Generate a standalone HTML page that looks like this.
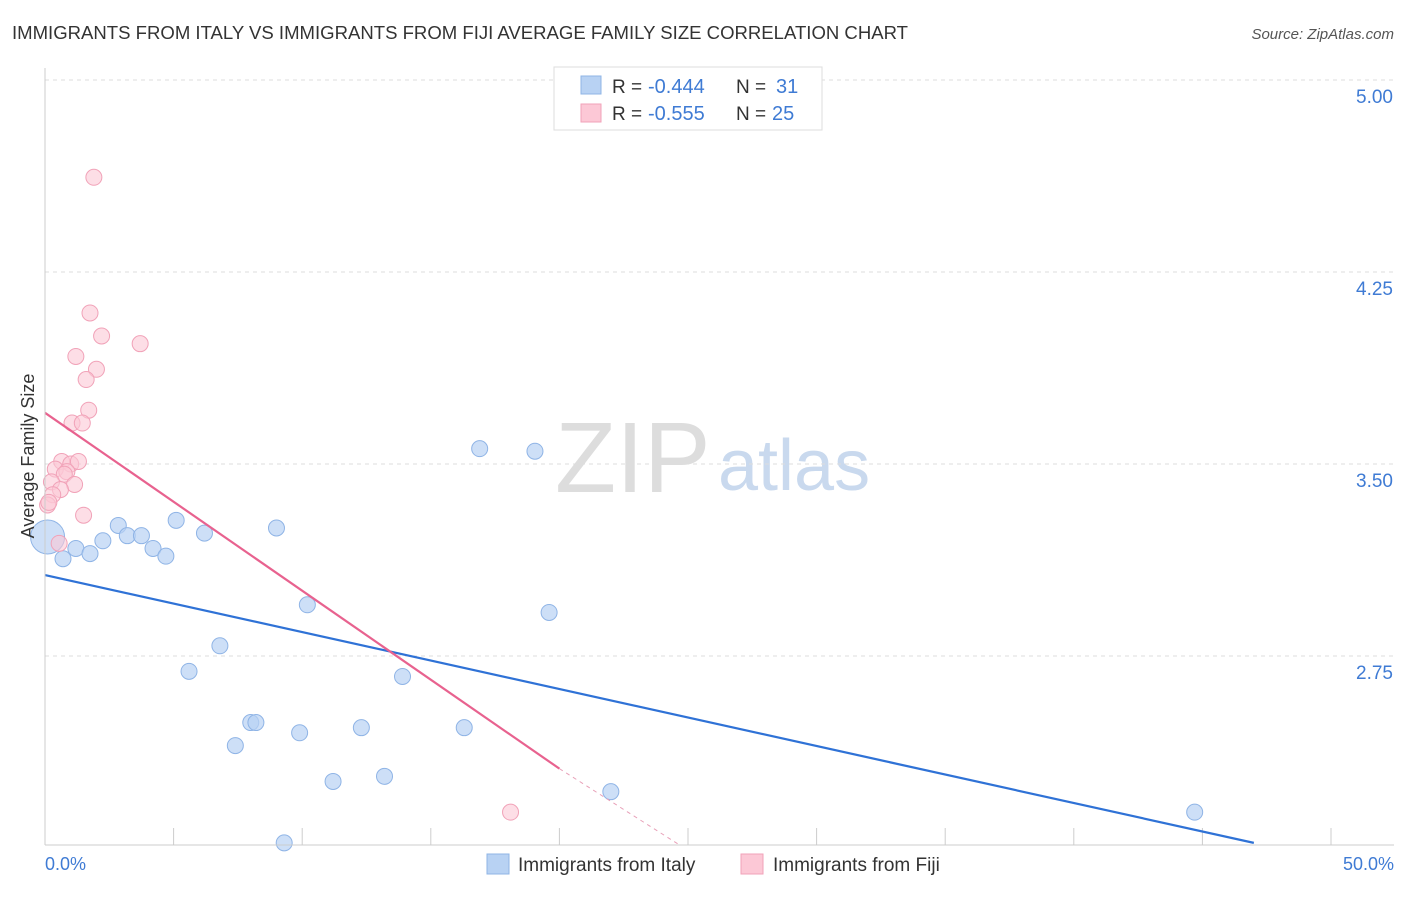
<!DOCTYPE html>
<html><head><meta charset="utf-8"><style>
body{margin:0;background:#fff;font-family:"Liberation Sans",sans-serif;}
svg text{font-family:"Liberation Sans",sans-serif;}
</style></head><body>
<svg id="chart" width="1406" height="892">
<text x="12" y="39" font-size="18" fill="#333" textLength="896" lengthAdjust="spacingAndGlyphs">IMMIGRANTS FROM ITALY VS IMMIGRANTS FROM FIJI AVERAGE FAMILY SIZE CORRELATION CHART</text>
<text x="1394" y="39" font-size="15" fill="#555" text-anchor="end" font-style="italic">Source: ZipAtlas.com</text>
<text x="555" y="492" font-size="100" fill="#ddd" font-family="Liberation Serif">ZIP</text>
<text x="718" y="490" font-size="72" fill="#c9d9ee">atlas</text>
<g id="grid"></g><g id="marks"></g><g id="lines"></g>
<line x1="45" y1="68" x2="45" y2="845" stroke="#ccc"/>
<line x1="45" y1="845" x2="1394" y2="845" stroke="#ccc"/>
<text transform="translate(34,456) rotate(-90)" font-size="18" fill="#333" text-anchor="middle">Average Family Size</text>
<text x="45" y="870" font-size="18" fill="#3f7bd4">0.0%</text>
<text x="1394" y="870" font-size="18" fill="#3f7bd4" text-anchor="end">50.0%</text>
<g>
<rect x="554" y="67" width="268" height="63" fill="#fff" stroke="#ddd"/>
<rect x="581" y="76" width="20" height="18" fill="#b8d2f3" stroke="#8fb4e6"/>
<rect x="581" y="104" width="20" height="18" fill="#fcc8d6" stroke="#f1a2b8"/>
<text x="612" y="93" font-size="19" fill="#333">R =</text>
<text x="648" y="93" font-size="20" fill="#3f7bd4">-0.444</text>
<text x="736" y="93" font-size="19" fill="#333">N =</text>
<text x="776" y="93" font-size="20" fill="#3f7bd4">31</text>
<text x="612" y="120" font-size="19" fill="#333">R =</text>
<text x="648" y="120" font-size="20" fill="#3f7bd4">-0.555</text>
<text x="736" y="120" font-size="19" fill="#333">N =</text>
<text x="772" y="120" font-size="20" fill="#3f7bd4">25</text>
</g>
<g>
<rect x="487" y="854" width="22" height="20" fill="#b8d2f3" stroke="#8fb4e6"/>
<text x="518" y="871" font-size="19" fill="#333">Immigrants from Italy</text>
<rect x="741" y="854" width="22" height="20" fill="#fcc8d6" stroke="#f1a2b8"/>
<text x="773" y="871" font-size="19" fill="#333">Immigrants from Fiji</text>
</g>
</svg>
<script>
const yTicks=[2.75,3.50,4.25,5.00];
const yTickLabels=["2.75","3.50","4.25","5.00"];
const xTicks=[0,5,10,15,20,25,30,35,40,45,50];
const italyX=[0.1,0.7,1.2,1.75,2.25,2.85,3.2,3.75,4.2,4.7,5.1,6.2,9.0,5.6,6.8,7.4,8.0,8.2,9.9,10.2,11.2,12.3,13.2,13.9,16.3,16.9,19.05,19.6,22.0,9.3,44.7];
const italyY=[3.215,3.13,3.17,3.15,3.20,3.26,3.22,3.22,3.17,3.14,3.28,3.23,3.25,2.69,2.79,2.40,2.49,2.49,2.45,2.95,2.26,2.47,2.28,2.67,2.47,3.56,3.55,2.92,2.22,2.02,2.14];
const fijiX=[1.9,1.75,2.2,3.7,1.2,2.0,1.6,1.7,1.05,1.45,0.65,1.0,1.3,0.4,0.85,0.75,0.25,1.15,0.6,0.3,0.1,1.5,0.55,18.1,0.15];
const fijiY=[4.62,4.09,4.00,3.97,3.92,3.87,3.83,3.71,3.66,3.66,3.51,3.50,3.51,3.48,3.47,3.46,3.43,3.42,3.40,3.38,3.34,3.30,3.19,2.14,3.35];
const italyTrend=[[0,3.066],[47,2.02]];
const fijiTrend=[[0,3.70],[20,2.31]];
const fijiTrendDash=[[20,2.31],[24.7,2.01]];
const X=v=>45+v*(1331-45)/50;
const Y=v=>80+(5-v)*256;
const NS="http://www.w3.org/2000/svg";
function mk(t,a,p){const e=document.createElementNS(NS,t);for(const k in a)e.setAttribute(k,a[k]);p.appendChild(e);return e;}
const grid=document.getElementById('grid'),marks=document.getElementById('marks'),lines=document.getElementById('lines');
yTicks.forEach((t,i)=>{
 const l=mk('line',{x1:45,x2:1394,y1:Y(t),y2:Y(t),stroke:'#ddd','stroke-dasharray':'4,4'},grid);
 
 
 const tx=mk('text',{x:1393,y:Y(t)+23,'font-size':19,fill:'#3f7bd4','text-anchor':'end'},grid);
 tx.textContent=yTickLabels[i];
 
 
});
xTicks.forEach(t=>{
 const l=mk('line',{x1:X(t),x2:X(t),y1:828,y2:845,stroke:'#ccc'},grid);
 
 
});
italyX.forEach((x,i)=>{
 const c=mk('circle',{cx:X(x),cy:Y(italyY[i]),r:i==0?17:8,fill:'#b8d2f3','fill-opacity':0.7,stroke:'#8fb4e6'},marks);
 
 
});
fijiX.forEach((x,i)=>{
 const c=mk('circle',{cx:X(x),cy:Y(fijiY[i]),r:8,fill:'#fcc8d6','fill-opacity':0.6,stroke:'#f1a2b8'},marks);
 
 
});
function ln(p,col,name,dash){
 const l=mk('line',{x1:X(p[0][0]),y1:Y(p[0][1]),x2:X(p[1][0]),y2:Y(p[1][1]),stroke:col,'stroke-width':dash?1:2.2},lines);
 if(dash)l.setAttribute('stroke-dasharray','4,4');
 
 
}
ln(italyTrend,'#2f72d6','italy-trendline');
ln(fijiTrend,'#e8628f','fiji-trendline');
ln(fijiTrendDash,'#e8a0b8','fiji-trendline-extension',true);
</script>
</body></html>
